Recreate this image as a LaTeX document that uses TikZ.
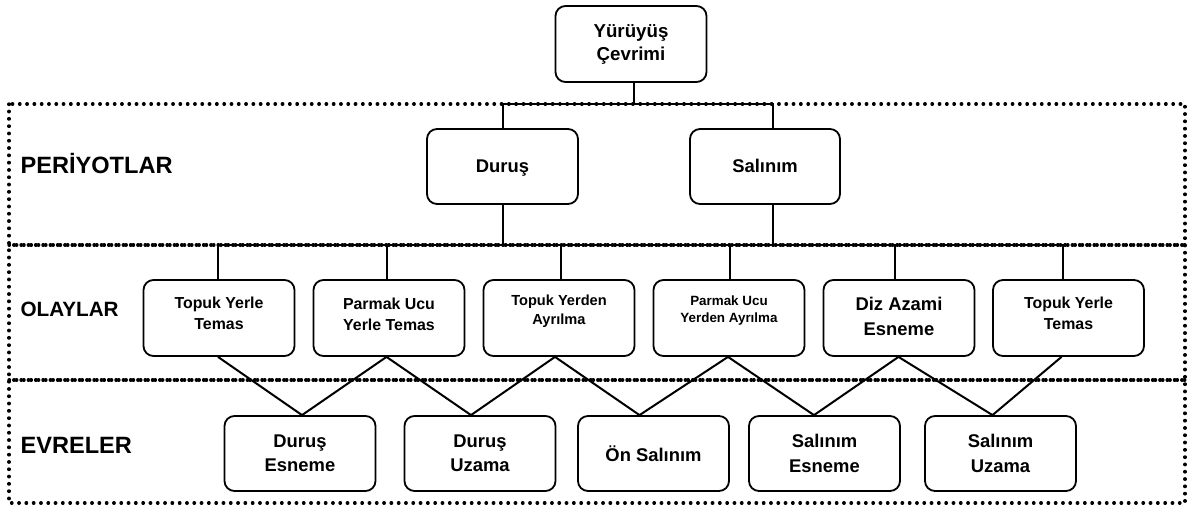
\documentclass[tikz,border=0pt]{standalone}
\usepackage{fontspec}
\setmainfont{Liberation Sans}
\newcommand{\lift}[1]{\rule[-#1]{0pt}{#1}}
\newcommand{\nodepth}[1]{\raisebox{0pt}[\height][0pt]{#1}}
\begin{document}
\begin{tikzpicture}[x=1pt,y=-1pt,
  box/.style={draw, line width=1.8pt, rounded corners=10pt, align=center,
    inner sep=0pt, minimum width=151pt, minimum height=76pt},
  conn/.style={line width=2pt},
  dotline/.style={line width=3.3pt, line cap=round, dash pattern=on 0.5pt off 6.8pt},
  fTop/.style={font=\bfseries\fontsize{18.7}{23}\selectfont},
  fBig/.style={font=\bfseries\fontsize{18.4}{24.5}\selectfont},
  fMid/.style={font=\bfseries\fontsize{15.9}{21}\selectfont},
  fSm/.style={font=\bfseries\fontsize{14.6}{19.3}\selectfont},
  fXs/.style={font=\bfseries\fontsize{13.4}{17.7}\selectfont},
  sect/.style={anchor=base west, font=\bfseries\fontsize{23.6}{28}\selectfont}
]
\useasboundingbox (0,0) rectangle (1187,506);

% dotted frames
\draw[dotline] (9,104) rectangle (1185,503);
\draw[dotline] (9,245) -- (1185,245);
\draw[dotline, dash phase=2.6pt] (9,245) -- (1185,245);
\draw[dotline] (9,380) -- (1185,380);
\draw[dotline, dash phase=2.6pt] (9,380) -- (1185,380);

% section labels
\node[sect] (lp) at (17,173.4) {PERİYOTLAR};
\node[sect, font=\bfseries\fontsize{20.7}{25}\selectfont] (lo) at (17,316.4) {OLAYLAR};
\node[sect] (le) at (17,453.5) {EVRELER};

% nodes
\node[box, fTop] (top) at (631,44) {Yürüyüş\\Çevrimi};
\node[box, fBig, minimum height=75pt] (dur) at (502.5,166.5) {\nodepth{Duruş}\lift{1pt}};
\node[box, fBig, minimum height=75pt, minimum width=150pt] (sal) at (765,166.5) {Salınım\lift{1pt}};

\node[box, fMid] (e1) at (219,318) {Topuk Yerle\\Temas\lift{9pt}};
\node[box, fMid] (e2) at (389,318) {Parmak Ucu\\Yerle Temas\lift{8.5pt}};
\node[box, fSm]  (e3) at (559,318) {Topuk Yerden\\Ayrılma\lift{16pt}};
\node[box, fXs]  (e4) at (729,318) {Parmak Ucu\\Yerden Ayrılma\lift{18pt}};
\node[box, fBig, font=\bfseries\fontsize{18.4}{25}\selectfont] (e5) at (899,318) {Diz Azami\\Esneme\lift{3pt}};
\node[box, fMid] (e6) at (1068.5,318) {Topuk Yerle\\Temas\lift{9pt}};

\node[box, fBig, minimum height=75pt] (p1) at (300,453.5) {Duruş\\Esneme};
\node[box, fBig, minimum height=75pt] (p2) at (480,453.5) {Duruş\\Uzama};
\node[box, fBig, minimum height=75pt] (p3) at (653.5,453.5) {Ön Salınım};
\node[box, fBig, minimum height=75pt] (p4) at (824.5,453.5) {Salınım\\Esneme};
\node[box, fBig, minimum height=75pt] (p5) at (1000.5,453.5) {Salınım\\Uzama};

% connectors: cycle -> periods
\coordinate (busTop) at (0,104);
\coordinate (busMid) at (0,245);
\draw[conn] ([xshift=3pt]top.south) -- ([xshift=3pt]top.south |- busTop);
\draw[conn] (dur.north) |- ([xshift=8pt]sal.north |- busTop) -- ([xshift=8pt]sal.north);

% periods -> events
\draw[conn] (dur.south) -- (dur.south |- busMid);
\draw[conn] ([xshift=8pt]sal.south) -- ([xshift=8pt]sal.south |- busMid);
\draw[conn] ([xshift=-1pt]e1.north) |- ([xshift=-5.5pt]e6.north |- busMid) -- ([xshift=-5.5pt]e6.north);
\draw[conn] ([xshift=-2.5pt]e2.north) -- ([xshift=-2.5pt]e2.north |- busMid);
\draw[conn] ([xshift=2pt]e3.north) -- ([xshift=2pt]e3.north |- busMid);
\draw[conn] ([xshift=1pt]e4.north) -- ([xshift=1pt]e4.north |- busMid);
\draw[conn] ([xshift=-4.5pt]e5.north) -- ([xshift=-4.5pt]e5.north |- busMid);

% events -> phases
\draw[conn] ([xshift=-1pt]e1.south) -- ([xshift=2pt]p1.north) -- ([xshift=-2.5pt]e2.south)
  -- ([xshift=-9pt]p2.north) -- ([xshift=-4pt]e3.south) -- ([xshift=-14pt]p3.north)
  -- ([xshift=-1pt]e4.south) -- ([xshift=-10.5pt]p4.north) -- ([xshift=-0.5pt]e5.south)
  -- ([xshift=-8pt]p5.north) -- ([xshift=-7pt]e6.south);
\end{tikzpicture}
\end{document}
